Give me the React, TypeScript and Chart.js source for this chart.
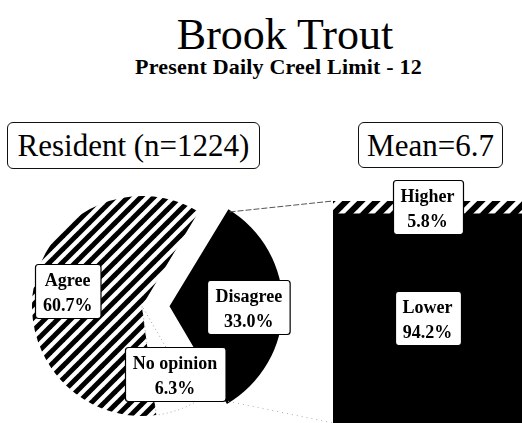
import React, { useEffect, useRef } from "react";
import { Chart, registerables } from "chart.js";

Chart.register(...registerables);

// ---- data ----
const TITLE = "Brook Trout";
const SUBTITLE = "Present Daily Creel Limit - 12";
const PIE_HEADER = "Resident (n=1224)";
const BAR_HEADER = "Mean=6.7";
const pieLabels = ["Agree", "Disagree", "No opinion"];
const pieValues = [60.7, 33.0, 6.3];
const barLabels = ["Lower", "Higher"];
const barValues = [94.2, 5.8];

const W = 522;
const H = 423;
const SERIF = '"Liberation Serif", "Times New Roman", Times, serif';
const PIE_RADIUS = 110;
const EXPLODE = 110; // Chart.js arc offset for the exploded slice

function makeHatch(bg: string, fg: string, size: number, lw: number): CanvasPattern | string {
  const c = document.createElement("canvas");
  c.width = size;
  c.height = size;
  const ctx = c.getContext("2d");
  if (!ctx) return fg;
  ctx.fillStyle = bg;
  ctx.fillRect(0, 0, size, size);
  ctx.strokeStyle = fg;
  ctx.lineWidth = lw;
  ctx.lineCap = "square";
  for (let k = -1; k <= 1; k++) {
    ctx.beginPath();
    ctx.moveTo(k * size - 1, size + 1);
    ctx.lineTo(k * size + size + 1, -1);
    ctx.stroke();
  }
  return ctx.createPattern(c, "repeat") || fg;
}

function labelBox(ctx: CanvasRenderingContext2D, cx: number, cy: number, l1: string, l2: string) {
  ctx.save();
  ctx.font = `bold 18px ${SERIF}`;
  const w = Math.max(ctx.measureText(l1).width, ctx.measureText(l2).width) + 16;
  const h = 54;
  const x = Math.round(cx - w / 2) + 0.5;
  const y = Math.round(cy - h / 2) + 0.5;
  ctx.beginPath();
  if ((ctx as any).roundRect) (ctx as any).roundRect(x, y, w, h, 3);
  else ctx.rect(x, y, w, h);
  ctx.fillStyle = "#fff";
  ctx.fill();
  ctx.lineWidth = 1.2;
  ctx.strokeStyle = "#000";
  ctx.stroke();
  ctx.fillStyle = "#000";
  ctx.textAlign = "center";
  ctx.textBaseline = "alphabetic";
  ctx.fillText(l1, cx, cy - 5);
  ctx.fillText(l2, cx, cy + 20);
  ctx.restore();
}

function arcShift(el: any, offset: number) {
  const mid = (el.startAngle + el.endAngle) / 2;
  const circ = el.endAngle - el.startAngle;
  const o = offset / 4;
  const fix = 1 - Math.sin(Math.min(Math.PI, circ || 0));
  const t = o + o * fix;
  return { dx: Math.cos(mid) * t, dy: Math.sin(mid) * t, mid };
}

export default function App() {
  const pieRef = useRef<HTMLCanvasElement | null>(null);
  const barRef = useRef<HTMLCanvasElement | null>(null);

  useEffect(() => {
    if (!pieRef.current || !barRef.current) return;
    const agreeHatch = makeHatch("#fff", "#000", 13, 5);
    const higherHatch = makeHatch("#000", "#fff", 15, 4.5);
    const offsets = pieLabels.map((l) => (l === "Disagree" ? EXPLODE : 0));
    const labelAngleNudge = pieLabels.map((l) => (l === "No opinion" ? -0.12 : 0));

    const pieLabelPlugin = {
      id: "pieLabels",
      afterDatasetsDraw(chart: any) {
        const ctx = chart.ctx;
        const meta = chart.getDatasetMeta(0);
        meta.data.forEach((el: any, i: number) => {
          const { dx, dy, mid } = arcShift(el, offsets[i]);
          const a = mid + labelAngleNudge[i];
          const r = el.outerRadius * 0.69;
          const cx = el.x + dx + Math.cos(a) * r;
          const cy = el.y + dy + Math.sin(a) * r;
          labelBox(ctx, cx, cy, pieLabels[i], pieValues[i].toFixed(1) + "%");
        });
      },
    };

    const pie = new Chart(pieRef.current, {
      type: "pie",
      data: {
        labels: pieLabels,
        datasets: [
          {
            data: pieValues,
            backgroundColor: [agreeHatch as any, "#000", "#fff"],
            borderColor: ["#000", "#000", "#a0a0a0"],
            borderWidth: [0, 0, 1],
            borderDash: [1, 3],
            offset: offsets,
            radius: PIE_RADIUS,
            clip: false,
          } as any,
        ],
      },
      options: {
        responsive: false,
        animation: false,
        rotation: 172.5,
        radius: PIE_RADIUS,
        layout: { padding: { left: 0, right: 238, top: 196, bottom: 7 } },
        plugins: { legend: { display: false }, tooltip: { enabled: false }, title: { display: false } },
      } as any,
      plugins: [pieLabelPlugin],
    });

    const connectorPlugin = {
      id: "connectors",
      beforeDatasetsDraw(chart: any) {
        const meta = pie.getDatasetMeta(0);
        const idx = pieLabels.indexOf("Disagree");
        const el: any = meta.data[idx];
        if (!el) return;
        const { dx, dy } = arcShift(el, offsets[idx]);
        const R = el.outerRadius;
        const p1 = { x: el.x + dx + Math.cos(el.startAngle) * R, y: el.y + dy + Math.sin(el.startAngle) * R };
        const p2 = { x: el.x + dx + Math.cos(el.endAngle) * R, y: el.y + dy + Math.sin(el.endAngle) * R };
        const a = chart.chartArea;
        const ctx = chart.ctx;
        ctx.save();
        ctx.strokeStyle = "#555";
        ctx.lineWidth = 1;
        ctx.setLineDash([6, 2]);
        ctx.beginPath();
        ctx.moveTo(p1.x, p1.y);
        ctx.lineTo(a.left, a.top);
        ctx.stroke();
        ctx.strokeStyle = "#aaa";
        ctx.setLineDash([1, 4]);
        ctx.beginPath();
        ctx.moveTo(p2.x, p2.y);
        ctx.lineTo(a.left, a.bottom);
        ctx.stroke();
        ctx.restore();
      },
    };

    const barLabelPlugin = {
      id: "barLabels",
      afterDatasetsDraw(chart: any) {
        const ctx = chart.ctx;
        chart.data.datasets.forEach((ds: any, i: number) => {
          const el: any = chart.getDatasetMeta(i).data[0];
          if (!el) return;
          const cy = (el.y + el.base) / 2;
          labelBox(ctx, el.x, cy, ds.label, ds.data[0].toFixed(1) + "%");
        });
      },
    };

    const bar = new Chart(barRef.current, {
      type: "bar",
      data: {
        labels: [BAR_HEADER],
        datasets: [
          { label: barLabels[0], data: [barValues[0]], backgroundColor: "#000", borderWidth: 0 },
          { label: barLabels[1], data: [barValues[1]], backgroundColor: higherHatch as any, borderWidth: 0 },
        ],
      },
      options: {
        responsive: false,
        animation: false,
        layout: { padding: { left: 333, right: 0, top: 201, bottom: 0 } },
        datasets: { bar: { categoryPercentage: 1, barPercentage: 1 } },
        scales: {
          x: { stacked: true, display: false },
          y: { stacked: true, display: false, min: 0, max: 100 },
        },
        plugins: { legend: { display: false }, tooltip: { enabled: false } },
      } as any,
      plugins: [connectorPlugin, barLabelPlugin],
    });

    return () => {
      bar.destroy();
      pie.destroy();
    };
  }, []);

  const boxStyle: React.CSSProperties = {
    position: "absolute",
    border: "1.3px solid #111",
    borderRadius: 6,
    boxSizing: "border-box",
    display: "flex",
    alignItems: "center",
    justifyContent: "center",
    fontFamily: SERIF,
    fontSize: 31,
    lineHeight: "31px",
    color: "#000",
    background: "#fff",
    whiteSpace: "nowrap",
  };

  return (
    <div
      style={{
        position: "fixed",
        left: 0,
        top: 0,
        width: W,
        height: H,
        overflow: "hidden",
        background: "#fff",
      }}
    >
      <div
        style={{
          position: "absolute",
          left: 0,
          top: 13,
          width: 570,
          textAlign: "center",
          fontFamily: SERIF,
          fontSize: 44,
          lineHeight: "44px",
          color: "#000",
        }}
      >
        {TITLE}
      </div>
      <div
        style={{
          position: "absolute",
          left: 0,
          top: 56,
          width: 557,
          textAlign: "center",
          fontFamily: SERIF,
          fontWeight: "bold",
          fontSize: 22,
          lineHeight: "22px",
          letterSpacing: "0.2px",
          color: "#000",
        }}
      >
        {SUBTITLE}
      </div>
      <div style={{ ...boxStyle, left: 7, top: 122, width: 253, height: 47 }}>{PIE_HEADER}</div>
      <div style={{ ...boxStyle, left: 358, top: 122, width: 145, height: 46 }}>{BAR_HEADER}</div>
      <canvas
        ref={pieRef}
        width={W}
        height={H}
        style={{ position: "absolute", left: 0, top: 0, width: W, height: H }}
      />
      <canvas
        ref={barRef}
        width={W}
        height={H}
        style={{ position: "absolute", left: 0, top: 0, width: W, height: H }}
      />
    </div>
  );
}
